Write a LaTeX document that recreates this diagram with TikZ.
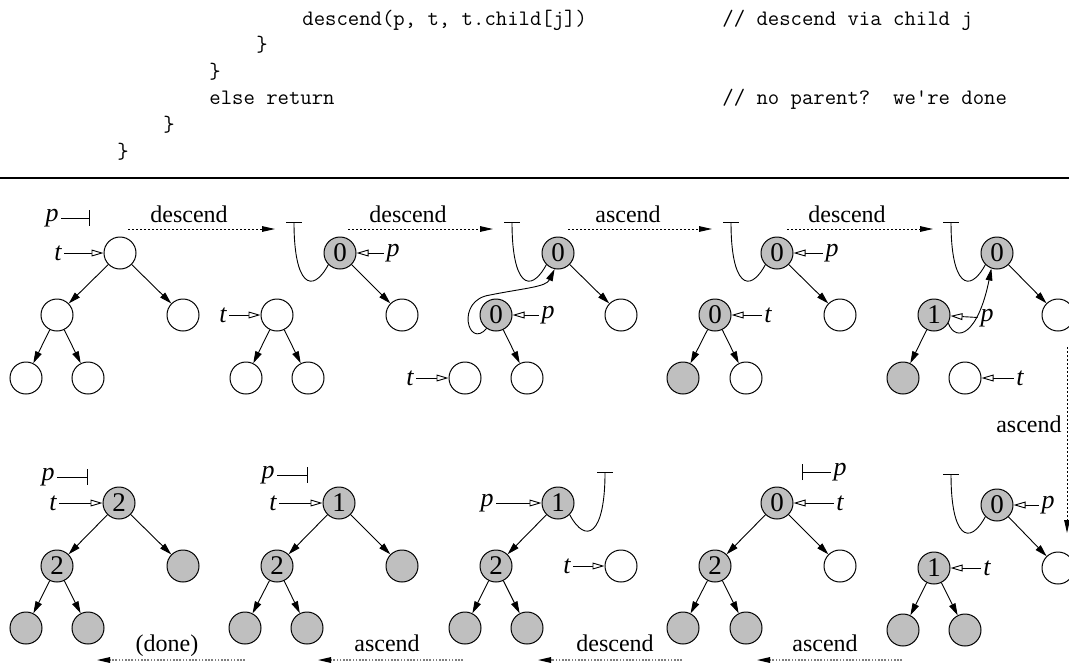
\documentclass[tikz,border=0pt]{standalone}
\usepackage{fontspec}
\setmainfont{Liberation Serif}
\usetikzlibrary{arrows.meta}
\begin{document}
\begin{tikzpicture}[x=0.5pt,y=-0.5pt]
\tikzset{
  nd/.style={circle,draw,line width=0.5pt,minimum size=16pt,inner sep=0pt,font=\fontsize{13.5}{13.5}\selectfont},
  gn/.style={nd,fill=black!25},
  lbl/.style={inner sep=1.2pt,font=\fontsize{13}{13}\selectfont\itshape},
  ed/.style={line width=0.45pt,-{Triangle[length=6pt,width=3.4pt]}},
  ptr/.style={line width=0.45pt,-{Triangle[open,length=6pt,width=3.4pt,fill=white]}},
  nil/.style={line width=0.45pt,-{Bar[width=8pt,line width=0.45pt]}},
  mv/.style={line width=0.5pt,dash pattern=on 1pt off 1pt,-{Triangle[length=6.5pt,width=2.8pt]}},
  mvg/.style={line width=0.6pt,draw=black!50,dash pattern=on 0.8pt off 0.8pt,-{Triangle[length=6.5pt,width=2.8pt,color=black]}},
  steplbl/.style={font=\fontsize{12}{12}\selectfont,anchor=base,inner sep=0pt},
  code/.style={anchor=base west,inner sep=0pt,font=\fontsize{11.05}{13}\ttfamily}
}
\useasboundingbox (0,0) rectangle (1069,665);

% ---- code ----
\node[code] (c1) at (302,25) {descend(p, t, t.child[j])};
\node[code] (c2) at (722,25) {// descend via child j};
\node[code] (c3) at (256,51.6) {\}};
\node[code] (c4) at (209,78.2) {\}};
\node[code] (c5) at (209,104.8) {else return};
\node[code] (c6) at (722,104.8) {// no parent?\ \ we're done};
\node[code] (c7) at (163,131.4) {\}};
\node[code] (c8) at (117,158) {\}};
\draw[line width=1pt] (0,178) -- (1069,178);

% ---- top panel 1 ----
\node[nd] (T1r) at (120,253) {};
\node[nd] (T1a) at (57,315) {};
\node[nd] (T1b) at (183,315) {};
\node[nd] (T1c) at (26,378) {};
\node[nd] (T1d) at (88,378) {};
\draw[ed] (T1r) -- (T1a); \draw[ed] (T1r) -- (T1b);
\draw[ed] (T1a) -- (T1c); \draw[ed] (T1a) -- (T1d);
\node[lbl] (T1p) at (52,218) {p}; \coordinate (T1z) at (90,218);
\draw[nil] (T1p) -- (T1z);
\node[lbl] (T1t) at (58,253) {t}; \draw[ptr] (T1t) -- (T1r);

% ---- top panel 2 ----
\node[gn] (T2r) at (340,253) {0};
\node[nd] (T2a) at (277,315) {};
\node[nd] (T2b) at (402,315) {};
\node[nd] (T2c) at (246,378) {};
\node[nd] (T2d) at (308,378) {};
\draw[ed] (T2r) -- (T2b);
\draw[ed] (T2a) -- (T2c); \draw[ed] (T2a) -- (T2d);
\coordinate (T2z) at (294,222);
\draw[nil] (T2r.225) .. controls (312,295) and (294,285) .. (T2z);
\node[lbl] (T2p) at (393,253) {p}; \draw[ptr] (T2p) -- (T2r);
\node[lbl] (T2t) at (223,315) {t}; \draw[ptr] (T2t) -- (T2a);

% ---- top panel 3 ----
\node[gn] (T3r) at (558,253) {0};
\node[gn] (T3a) at (496,315) {0};
\node[nd] (T3b) at (621,315) {};
\node[nd] (T3c) at (465,378) {};
\node[nd] (T3d) at (527,378) {};
\draw[ed] (T3r) -- (T3b);
\draw[ed] (T3a) -- (T3d);
\coordinate (T3z) at (512,222);
\draw[nil] (T3r.225) .. controls (530,295) and (512,285) .. (T3z);
\draw[ed] (T3a.235) .. controls (468,350) and (455,300) .. (490,295) .. controls (525,288) and (546,287) .. (T3r.258);
\node[lbl] (T3p) at (548,315) {p}; \draw[ptr] (T3p) -- (T3a);
\node[lbl] (T3t) at (410,378) {t}; \draw[ptr] (T3t) -- (T3c);

% ---- top panel 4 ----
\node[gn] (T4r) at (777,253) {0};
\node[gn] (T4a) at (715,315) {0};
\node[nd] (T4b) at (840,315) {};
\node[gn] (T4c) at (683,378) {};
\node[nd] (T4d) at (746,378) {};
\draw[ed] (T4r) -- (T4b);
\draw[ed] (T4a) -- (T4c); \draw[ed] (T4a) -- (T4d);
\coordinate (T4z) at (731,222);
\draw[nil] (T4r.225) .. controls (749,295) and (731,285) .. (T4z);
\node[lbl] (T4p) at (832,253) {p}; \draw[ptr] (T4p) -- (T4r);
\node[lbl] (T4t) at (768,315) {t}; \draw[ptr] (T4t) -- (T4a);

% ---- top panel 5 ----
\node[gn] (T5r) at (997,253) {0};
\node[gn] (T5a) at (934,315) {1};
\node[nd] (T5b) at (1058,315) {};
\node[gn] (T5c) at (903,378) {};
\node[nd] (T5d) at (965,378) {};
\draw[ed] (T5r) -- (T5b);
\draw[ed] (T5a) -- (T5c);
\coordinate (T5z) at (951,222);
\draw[nil] (T5r.225) .. controls (969,295) and (951,285) .. (T5z);
\draw[ed] (T5a.330) .. controls (956,343) and (978,335) .. (T5r.250);
\node[lbl] (T5p) at (987,318) {p}; \draw[ptr] (T5p) -- (T5a);
\node[lbl] (T5t) at (1020,378) {t}; \draw[ptr] (T5t) -- (T5d);

% ---- bottom panel 5 ----
\node[gn] (B5r) at (997,505) {0};
\node[gn] (B5a) at (934,568) {1};
\node[nd] (B5b) at (1058,568) {};
\node[gn] (B5c) at (903,630) {};
\node[gn] (B5d) at (965,630) {};
\draw[ed] (B5r) -- (B5b);
\draw[ed] (B5a) -- (B5c); \draw[ed] (B5a) -- (B5d);
\coordinate (B5z) at (951,474);
\draw[nil] (B5r.225) .. controls (969,547) and (951,537) .. (B5z);
\node[lbl] (B5p) at (1048,505) {p}; \draw[ptr] (B5p) -- (B5r);
\node[lbl] (B5t) at (987,568) {t}; \draw[ptr] (B5t) -- (B5a);

% ---- bottom panel 4 ----
\node[gn] (B4r) at (777,503) {0};
\node[gn] (B4a) at (715,566) {2};
\node[nd] (B4b) at (840,566) {};
\node[gn] (B4c) at (683,628) {};
\node[gn] (B4d) at (746,628) {};
\draw[ed] (B4r) -- (B4a); \draw[ed] (B4r) -- (B4b);
\draw[ed] (B4a) -- (B4c); \draw[ed] (B4a) -- (B4d);
\node[lbl] (B4p) at (840,472) {p}; \coordinate (B4z) at (802,472);
\draw[nil] (B4p) -- (B4z);
\node[lbl] (B4t) at (840,503) {t}; \draw[ptr] (B4t) -- (B4r);

% ---- bottom panel 3 ----
\node[gn] (B3r) at (558,503) {1};
\node[gn] (B3a) at (496,566) {2};
\node[nd] (B3b) at (621,566) {};
\node[gn] (B3c) at (465,628) {};
\node[gn] (B3d) at (527,628) {};
\draw[ed] (B3r) -- (B3a);
\draw[ed] (B3a) -- (B3c); \draw[ed] (B3a) -- (B3d);
\coordinate (B3z) at (605,472);
\draw[nil] (B3r.-45) .. controls (586,545) and (605,535) .. (B3z);
\node[lbl] (B3p) at (487,503) {p}; \draw[ptr] (B3p) -- (B3r);
\node[lbl] (B3t) at (567,566) {t}; \draw[ptr] (B3t) -- (B3b);

% ---- bottom panel 2 ----
\node[gn] (B2r) at (339,503) {1};
\node[gn] (B2a) at (277,566) {2};
\node[gn] (B2b) at (402,566) {};
\node[gn] (B2c) at (245,628) {};
\node[gn] (B2d) at (307,628) {};
\draw[ed] (B2r) -- (B2a); \draw[ed] (B2r) -- (B2b);
\draw[ed] (B2a) -- (B2c); \draw[ed] (B2a) -- (B2d);
\node[lbl] (B2p) at (268,475) {p}; \coordinate (B2z) at (308,475);
\draw[nil] (B2p) -- (B2z);
\node[lbl] (B2t) at (273,503) {t}; \draw[ptr] (B2t) -- (B2r);

% ---- bottom panel 1 ----
\node[gn] (B1r) at (119,503) {2};
\node[gn] (B1a) at (57,566) {2};
\node[gn] (B1b) at (183,566) {};
\node[gn] (B1c) at (26,628) {};
\node[gn] (B1d) at (88,628) {};
\draw[ed] (B1r) -- (B1a); \draw[ed] (B1r) -- (B1b);
\draw[ed] (B1a) -- (B1c); \draw[ed] (B1a) -- (B1d);
\node[lbl] (B1p) at (48,477) {p}; \coordinate (B1z) at (88,477);
\draw[nil] (B1p) -- (B1z);
\node[lbl] (B1t) at (53,503) {t}; \draw[ptr] (B1t) -- (B1r);

% ---- step arrows ----
\coordinate (S1a) at (128,229); \coordinate (S1b) at (275,229);
\draw[mv] (S1a) -- (S1b); \node[steplbl] (L1) at (189,222) {descend};
\coordinate (S2a) at (348,229); \coordinate (S2b) at (493,229);
\draw[mv] (S2a) -- (S2b); \node[steplbl] (L2) at (408,222) {descend};
\coordinate (S3a) at (568,229); \coordinate (S3b) at (712,229);
\draw[mv] (S3a) -- (S3b); \node[steplbl] (L3) at (628,222) {ascend};
\coordinate (S4a) at (787,229); \coordinate (S4b) at (933,229);
\draw[mv] (S4a) -- (S4b); \node[steplbl] (L4) at (847,222) {descend};
\coordinate (S5a) at (1067,347); \coordinate (S5b) at (1067,533);
\draw[mv] (S5a) -- (S5b); \node[steplbl,anchor=base east] (L5) at (1062,432) {ascend};
\coordinate (S6a) at (902,660); \coordinate (S6b) at (757,660);
\draw[mvg] (S6a) -- (S6b); \node[steplbl] (L6) at (825,651) {ascend};
\coordinate (S7a) at (682,660); \coordinate (S7b) at (538,660);
\draw[mvg] (S7a) -- (S7b); \node[steplbl] (L7) at (615,651) {descend};
\coordinate (S8a) at (463,660); \coordinate (S8b) at (318,660);
\draw[mvg] (S8a) -- (S8b); \node[steplbl] (L8) at (387,651) {ascend};
\coordinate (S9a) at (245,660); \coordinate (S9b) at (97,660);
\draw[mvg] (S9a) -- (S9b); \node[steplbl] (L9) at (167,651) {(done)};
\end{tikzpicture}
\end{document}
